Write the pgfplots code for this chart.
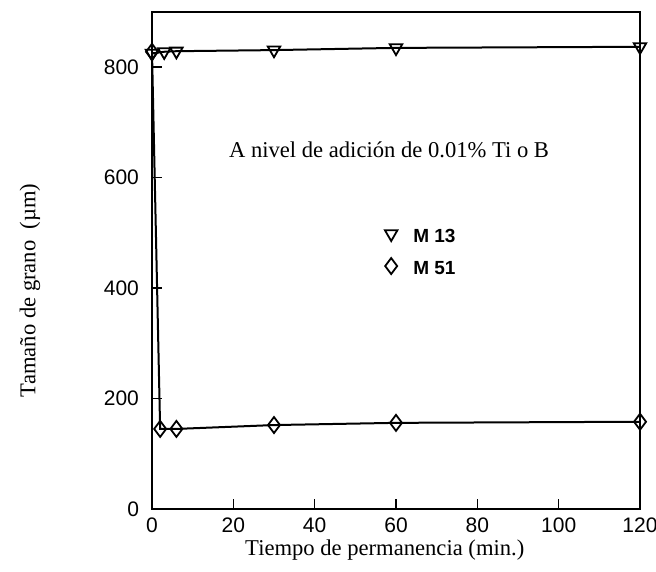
\documentclass[border=0pt]{standalone}
\usepackage{fontspec}
\setmainfont{Liberation Serif}
\setsansfont{Liberation Sans}
\usepackage{pgfplots}
\pgfplotsset{compat=1.18}
\begin{document}
\begin{tikzpicture}
\path[use as bounding box] (-76pt,-31pt) rectangle (252pt,254.5pt);
\begin{axis}[
  scale only axis,
  width=244pt, height=248.5pt,
  xmin=0, xmax=120, ymin=0, ymax=900,
  xtick={0,20,40,60,80,100,120},
  ytick={0,200,400,600,800},
  tick align=inside,
  xtick pos=bottom, ytick pos=left,
  major tick length=5pt,
  axis line style={line width=1pt},
  tick style={line width=0.8pt, black},
  /pgf/number format/assume math mode=true,
  ticklabel style={font=\fontsize{10.5}{12}\selectfont\sffamily},
  yticklabel style={xshift=-3pt},
  xticklabel style={yshift=-1pt},
  xlabel={Tiempo de permanencia (min.)},
  ylabel={Tamaño de grano\ \ (µm)},
  label style={font=\fontsize{11.3}{13}\selectfont},
  xlabel style={at={(axis description cs:0.477,-0.0825)}, anchor=center},
  ylabel style={at={(axis description cs:-0.25,0.44)}, anchor=center},
  legend style={at={(axis description cs:0.44,0.58)}, anchor=north west, draw=none, fill=none,
    font=\fontsize{9.5}{11}\selectfont\sffamily\bfseries, row sep=4pt},
  legend cell align=left,
  legend image code/.code={\path (0cm,0cm) (0.6cm,0cm); \draw[#1] plot coordinates {(0.3cm,0.06cm)};},
]
\addplot[black, line width=1pt, mark=triangle, mark size=3.6pt, mark options={rotate=180, solid, fill=white, line width=0.9pt}]
  coordinates {(0,825) (3,828) (6,829) (30,831) (60,835) (120,837)};
\addlegendentry{M 13}
\addplot[black, line width=1pt, mark=diamond, mark size=4pt, mark options={solid, fill=white, line width=0.9pt}]
  coordinates {(0,828) (2,145) (6,145) (30,152) (60,156) (120,158)};
\addlegendentry{M 51}
\node[font=\fontsize{11.3}{13}\selectfont, anchor=center] at (axis cs:58.3,650) {A nivel de adición de 0.01\% Ti o B};
\end{axis}
\end{tikzpicture}
\end{document}
